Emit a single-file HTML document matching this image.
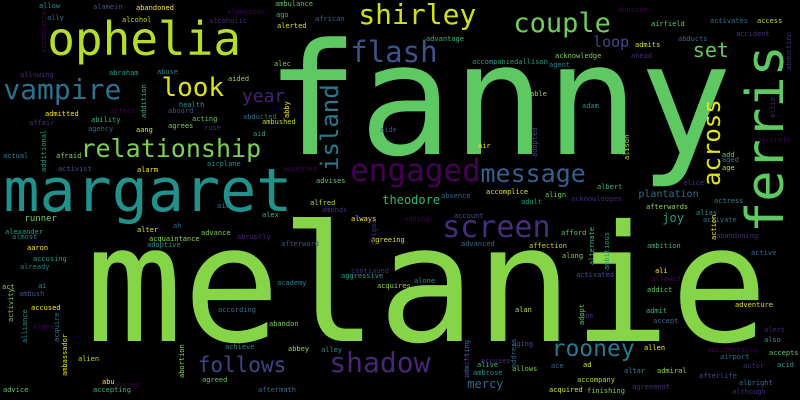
<!DOCTYPE html>
<html><head><meta charset="utf-8">
<style>
html,body{margin:0;padding:0;background:#000;}
#cloud{position:relative;width:800px;height:400px;overflow:hidden;background:#000;font-family:"DejaVu Sans Mono","Liberation Mono",monospace;}
#cloud span{position:absolute;white-space:nowrap;line-height:1;}
</style></head>
<body>
<div id="cloud"></div>
<script>
// big horizontal words: text, font size, ink left, baseline, colour
const bigWords = ["melanie","fanny","margaret","ophelia","vampire","look","year","relationship","shirley","couple","flash","loop","set","engaged","message","theodore","plantation","joy","screen","rooney","shadow","follows","mercy","runner"];
const bigSizes = [162,155,60,46,28,26,18,25,28,27,29,15,20,31,25,12,10,12,30,23,28,21,12,9];
const bigX = [95,275,7,50,5,163,243,82,360,515,352,594,694,352,482,383,639,663,444,553,331,199,468,25];
const bigBase = [342,154,212,55,100,97,103,157,25,33,63,48,57,182,182,204,198,222,238,357,373,373,388,223];
const bigColors = ["#86d549","#5ec962","#21918c","#b5de2b","#2c728e","#dde318","#482173","#7ad151","#d0e11c","#6ece58","#3b528b","#3e4989","#65cb5e","#440154","#355f8d","#35b779","#2c728e","#1f9e89","#472d7b","#2a788e","#482576","#414487","#31688e","#6ece58"];
// big vertical words
const vWords = ["ferris","island","across"];
const vSizes = [52,24,24];
const vBaseX = [784,338,720];
const vBottom = [230,170,185];
const vColors = ["#5ec962","#2a788e","#e5e419"];
// small words
const sWords = ["allow","alamein","abandoned","alongside","ambulance","ally","alcohol","alcoholic","ago","african","alerted","alec","allowing","abraham","abuse","aided","health","aboard","admitted","affect","acting","abducted","ambushed","affair","ability","agency","aang","agrees","ruse","aid","actual","afraid","airplane","activist","alarm","accepted","advises","aim","alfred","amends","alex","ah","alter","advance","abruptly","alexander","almost","acquaintance","adoptive","afterward","aaron",
"abusive","airfield","activates","access","accident","advantage","abducts","admits","acknowledge","ahead","accompaniedallison","agent","able","adam","aide","air","aircraft","add","aged","age","alice","albert","absence","accomplice","align","acknowledges","adult","actress","afterwards","alias","account","always","adding",
"afford","advanced","affection","abandoning","ambition","active","agreeing","along","continued","aggressive","academy","acquires","alone","activated","ali","allowed","addict","according","alan","abe","admit","accept","adventure","abandon","alert","also","achieve","abbey","alley","aging","allen","accidentally","accepts","airport","alien","accuses","alive","ace","ad","allows","actor","acid","altar","admiral","ambrose","afterlife","abu","abused","agreed","albright","accompany","agreement","accepting","aftermath","acquired","finishing","although","accusing","already","act","ai","ambush","accused","alpha","advice","activate"];
const sX = [39,93,136,227,275,47,122,209,276,315,277,274,20,109,157,228,179,168,45,110,192,243,262,29,91,88,136,168,204,253,3,56,207,58,137,283,316,217,310,322,262,173,137,201,237,5,12,149,147,281,27,
618,651,710,757,736,426,678,635,555,631,472,549,530,582,380,478,757,722,722,722,683,597,441,486,545,571,521,714,646,696,454,351,404,
561,461,529,716,647,751,371,562,351,341,277,377,414,576,655,651,647,218,515,581,646,653,735,269,764,764,225,288,321,512,644,707,769,720,78,481,477,551,583,512,743,777,624,657,473,699,102,114,202,739,577,632,93,258,549,587,732,33,20,2,38,19,31,33,3,703];
const sY = [3,4,5,9,1,15,17,18,12,16,23,61,72,70,69,76,102,108,111,108,116,114,119,120,117,126,127,123,125,131,153,153,161,166,167,166,178,203,200,207,212,223,227,230,234,229,234,236,242,241,245,
7,21,18,18,31,36,36,42,53,53,59,62,91,103,127,143,137,152,157,165,180,184,193,189,192,196,199,198,204,210,213,216,216,
230,241,243,233,243,250,237,253,268,273,280,283,278,272,268,276,287,307,307,313,308,318,302,321,327,337,344,346,347,341,345,347,350,354,356,358,362,363,362,366,363,362,368,368,370,373,379,382,377,380,377,384,387,387,387,388,389,256,264,284,283,291,305,324,387,217];
const sColors = ["#21918c","#3b528b","#fde725","#440154","#5ec962","#2c728e","#b5de2b","#472d7b","#35b779","#31688e","#dde318","#7ad151","#482878","#1f9e89","#26828e","#90d743"];
// small vertical words
const svWords = ["accompanies","addition","additional","abby","abduction","allie","adopted","alison","activity","alliance","acquire","ambassador","abortion","adopt","address","admitting","actually","alternate","ambitious","action","abigail"];
const svX = [42,142,42,285,787,771,533,625,9,23,55,63,180,580,512,465,465,590,605,712,372];
const svBottom = [53,118,172,118,70,118,157,160,322,343,342,376,378,325,368,378,377,265,270,240,245];

const cloud = document.getElementById('cloud');
function slug(t){return t.toLowerCase().replace(/[^a-z0-9]+/g,'-');}
bigWords.forEach((w,i)=>{
  const s=document.createElement('span');
  
  
  const fs=bigSizes[i];
  s.textContent=w;
  s.style.fontSize=fs+'px';
  s.style.color=bigColors[i];
  s.style.left=(bigX[i]-0.06*fs)+'px';
  s.style.top=(bigBase[i]-0.846*fs)+'px';
  cloud.appendChild(s);
});
vWords.forEach((w,i)=>{
  const s=document.createElement('span');
  
  
  const fs=vSizes[i];
  s.textContent=w;
  s.style.fontSize=fs+'px';
  s.style.color=vColors[i];
  s.style.left=(vBaseX[i]-0.846*fs)+'px';
  s.style.top=(vBottom[i]+0.06*fs)+'px';
  s.style.transformOrigin='0 0';
  s.style.transform='rotate(-90deg)';
  cloud.appendChild(s);
});
sWords.forEach((w,i)=>{
  const s=document.createElement('span');
  
  
  s.textContent=w;
  s.style.fontSize='7px';
  s.style.color=sColors[i%sColors.length];
  s.style.left=sX[i]+'px';
  s.style.top=sY[i]+'px';
  cloud.appendChild(s);
});
svWords.forEach((w,i)=>{
  const s=document.createElement('span');
  
  
  s.textContent=w;
  s.style.fontSize='7px';
  s.style.color=sColors[(i*5+3)%sColors.length];
  s.style.left=(svX[i]-1)+'px';
  s.style.top=svBottom[i]+'px';
  s.style.transformOrigin='0 0';
  s.style.transform='rotate(-90deg)';
  cloud.appendChild(s);
});
</script>
</body></html>
